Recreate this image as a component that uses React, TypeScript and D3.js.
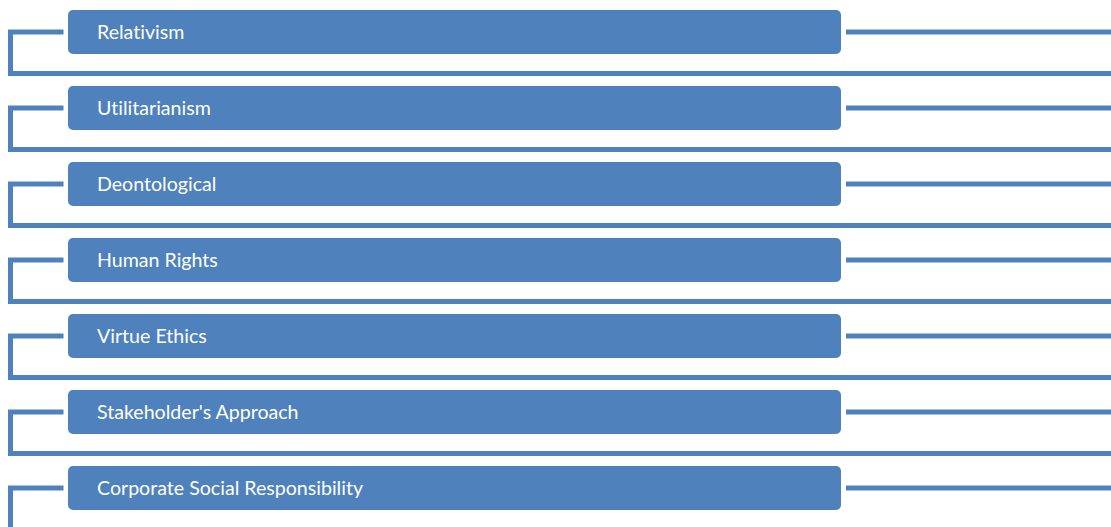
import React from "react";
import * as d3 from "d3";

const labels: string[] = [
  "Relativism",
  "Utilitarianism",
  "Deontological",
  "Human Rights",
  "Virtue Ethics",
  "Stakeholder's Approach",
  "Corporate Social Responsibility",
];

const W = 1111;
const H = 527;
const COLOR = "#4F81BD";

export default function App() {
  const y = d3
    .scaleBand<string>()
    .domain(labels)
    .range([10, 10 + labels.length * 76])
    .paddingInner(0)
    .paddingOuter(0);
  const barX0 = 68;
  const barX1 = 841;
  const barH = 44;
  const lineW = 5;

  return (
    <svg
      width={W}
      height={H}
      style={{ position: "absolute", left: 0, top: 0, display: "block" }}
    >
      <rect width={W} height={H} fill="#ffffff" />
      {labels.map((d, i) => {
        const y0 = y(d) as number;
        const cy = y0 + barH / 2;
        const by = i === labels.length - 1 ? H + 10 : y0 + 63.5;
        const path = d3.path();
        path.moveTo(63.5, cy);
        path.lineTo(10.5, cy);
        path.lineTo(10.5, by);
        if (i !== labels.length - 1) path.lineTo(W + 5, by);
        const right = d3.path();
        right.moveTo(846, cy);
        right.lineTo(W + 5, cy);
        return (
          <g key={d}>
            <path
              d={path.toString()}
              fill="none"
              stroke={COLOR}
              strokeWidth={lineW}
              strokeLinejoin="miter"
            />
            <path d={right.toString()} fill="none" stroke={COLOR} strokeWidth={lineW} />
            <rect
              x={barX0}
              y={y0}
              width={barX1 - barX0}
              height={barH}
              rx={5}
              ry={5}
              fill={COLOR}
            />
            <text
              x={97}
              y={y0 + 28.5}
              fill="#ffffff"
              fontFamily="Lato, 'Open Sans', sans-serif"
              fontSize={19.6}
              style={{ fontVariantLigatures: "none", fontKerning: "normal" }}
            >
              {d}
            </text>
          </g>
        );
      })}
    </svg>
  );
}
